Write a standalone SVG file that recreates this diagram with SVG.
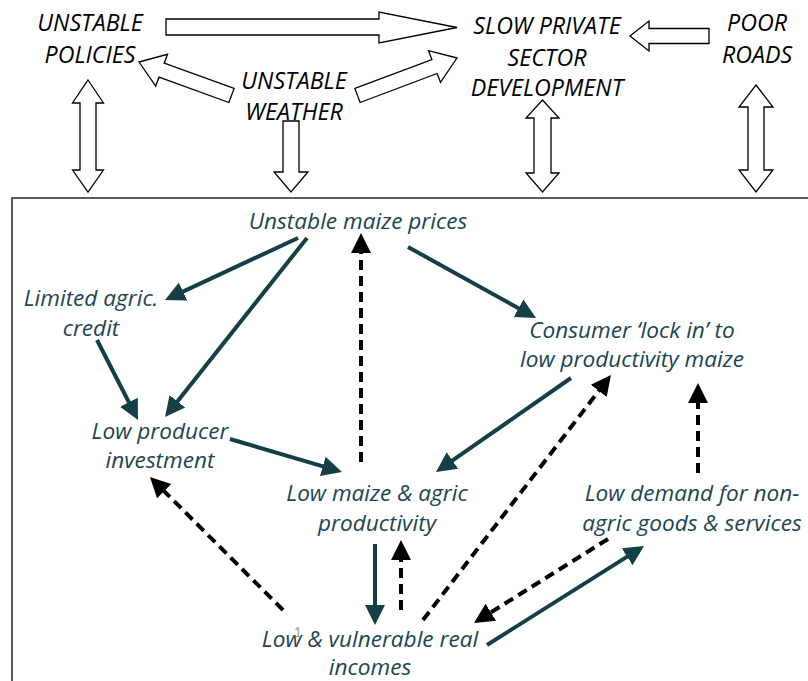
<svg xmlns="http://www.w3.org/2000/svg" width="808" height="681" viewBox="0 0 808 681">
<style>
.blk{fill:#fff;stroke:#000;stroke-width:1.3;stroke-linejoin:miter}
.top{font-family:"Open Sans",Lato,sans-serif;font-style:italic;font-size:23.2px;fill:#000;text-anchor:middle}
.lbl{font-family:"Open Sans",Lato,sans-serif;font-style:italic;font-size:22.6px;fill:#1b4650;text-anchor:middle}
.sol{stroke:#143f47;stroke-width:4;fill:none;marker-end:url(#hs)}
.dsh{stroke:#000;stroke-width:4;fill:none;stroke-dasharray:10 6;marker-end:url(#hd)}
</style>
<defs>
<marker id="hs" markerUnits="userSpaceOnUse" markerWidth="20" markerHeight="22" viewBox="0 0 20 22" refX="2" refY="11" orient="auto"><path d="M0,1 L20,11 L0,21 Z" fill="#143f47"/></marker>
<marker id="hd" markerUnits="userSpaceOnUse" markerWidth="20" markerHeight="22" viewBox="0 0 20 22" refX="2" refY="11" orient="auto"><path d="M0,1 L20,11 L0,21 Z" fill="#000"/></marker>
</defs>
<rect id="frame" x="12" y="198" width="820" height="520" fill="none" stroke="#333" stroke-width="1.6"/>
<g id="block-arrows">
<polygon class="blk" points="166,19 379,19 379,12 457,27.5 379,43 379,35 166,35"/>
<polygon class="blk" points="139,62 167.5,54.3 164.2,63.2 234.1,88.5 228.9,102.5 159,77.2 155.7,86.1"/>
<polygon class="blk" points="457,58 428.5,50.6 431.9,59.5 354.9,88.5 360.1,102.5 437.1,73.5 440.5,82.4"/>
<polygon class="blk" points="709,28.5 649,28.5 649,21 630,36 649,51 649,43.5 709,43.5"/>
<polygon class="blk" points="88,80 103.5,103 96,103 96,170 103.5,170 88,192 72.5,170 80,170 80,103 72.5,103"/>
<polygon class="blk" points="283,121 299,121 299,172 308,172 291,192 274,172 283,172"/>
<polygon class="blk" points="542.5,100 559,118 551,118 551,173 559,173 542.5,192 526,173 534,173 534,118 526,118"/>
<polygon class="blk" points="756,85 773,107 764,107 764,170 773,170 756,192 739,170 748,170 748,107 739,107"/>
</g>
<g id="n-policies"><text class="top" x="90" y="31">UNSTABLE</text><text class="top" x="90" y="63">POLICIES</text></g>
<g id="n-weather"><text class="top" x="294" y="89">UNSTABLE</text><text class="top" x="294" y="120">WEATHER</text></g>
<g id="n-private"><text class="top" x="547" y="34">SLOW PRIVATE</text><text class="top" x="547" y="66">SECTOR</text><text class="top" x="547" y="96">DEVELOPMENT</text></g>
<g id="n-roads"><text class="top" x="757" y="31">POOR</text><text class="top" x="757" y="63">ROADS</text></g>
<g id="n-prices"><text class="lbl" x="358" y="229">Unstable maize prices</text></g>
<g id="n-credit"><text class="lbl" x="91" y="306">Limited agric.</text><text class="lbl" x="91" y="336">credit</text></g>
<g id="n-investment"><text class="lbl" x="160" y="439">Low producer</text><text class="lbl" x="160" y="468">investment</text></g>
<g id="n-productivity"><text class="lbl" x="377" y="501">Low maize &amp; agric</text><text class="lbl" x="377" y="531">productivity</text></g>
<g id="n-consumer"><text class="lbl" x="632" y="338">Consumer ‘lock in’ to</text><text class="lbl" x="632" y="367">low productivity maize</text></g>
<g id="n-demand"><text class="lbl" x="692" y="501">Low demand for non-</text><text class="lbl" x="692" y="531">agric goods &amp; services</text></g>
<g id="n-incomes"><text class="lbl" x="370" y="647">Low &amp; vulnerable real</text><text class="lbl" x="370" y="675">incomes</text><text x="294" y="637" font-family="Lato,sans-serif" font-size="13" fill="#999">1</text></g>
<g id="connectors">
<line class="sol" x1="298" y1="238" x2="181.3" y2="292.4"/>
<line class="sol" x1="307" y1="238" x2="176.2" y2="402.9"/>
<line class="sol" x1="97" y1="340" x2="129.8" y2="404"/>
<line class="sol" x1="230" y1="439" x2="324.7" y2="466.9"/>
<line class="sol" x1="408" y1="247" x2="520.3" y2="309.3"/>
<line class="sol" x1="571" y1="378" x2="450.8" y2="461.7"/>
<line class="sol" x1="375" y1="544" x2="375" y2="607"/>
<line class="sol" x1="487" y1="645" x2="628.8" y2="555.6"/>
<line class="dsh" x1="361" y1="462" x2="361" y2="251"/>
<line class="dsh" x1="283" y1="610" x2="162.7" y2="489.7"/>
<line class="dsh" x1="401" y1="610" x2="401" y2="558"/>
<line class="dsh" x1="423" y1="620" x2="600" y2="389.3"/>
<line class="dsh" x1="698" y1="473" x2="698" y2="401"/>
<line class="dsh" x1="608" y1="539" x2="489.2" y2="613.4"/>
</g>
</svg>
